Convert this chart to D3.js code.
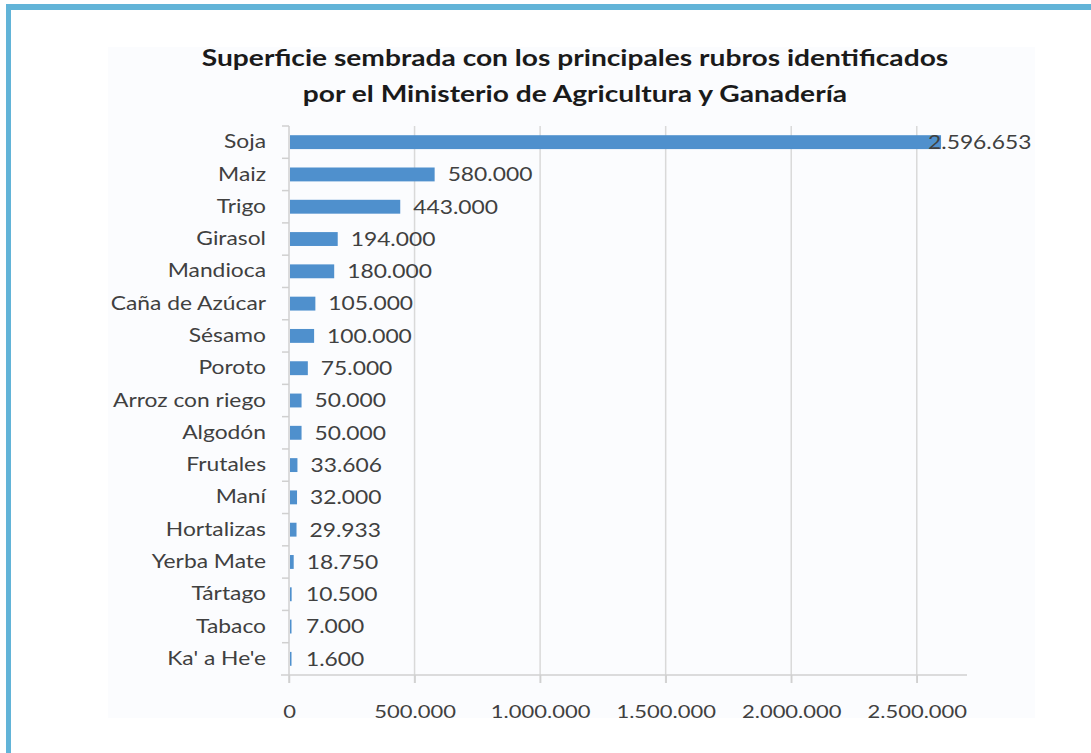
<!DOCTYPE html>
<html>
<head>
<meta charset="utf-8">
<title>Superficie sembrada</title>
<script src="https://cdn.jsdelivr.net/npm/d3@7/dist/d3.min.js"></script>
<style>
  html, body { margin: 0; padding: 0; background: #fff; }
  svg { display: block; font-family: Lato, "Open Sans", sans-serif; }
  .lbl { fill: #404040; }
</style>
</head>
<body>
<svg id="chart" width="1091" height="753"></svg>
<script>
// data
var rubros = ["Soja", "Maiz", "Trigo", "Girasol", "Mandioca", "Caña de Azúcar", "Sésamo",
  "Poroto", "Arroz con riego", "Algodón ", "Frutales", "Maní", "Hortalizas",
  "Yerba Mate", "Tártago", "Tabaco", "Ka' a He'e"];
var hectareas = [2596653, 580000, 443000, 194000, 180000, 105000, 100000,
  75000, 50000, 50000, 33606, 32000, 29933, 18750, 10500, 7000, 1600];
var xTicks = [0, 500000, 1000000, 1500000, 2000000, 2500000];
var titulo = ["Superficie sembrada con los principales rubros identificados",
  "por el Ministerio de Agricultura y Ganadería"];

var svg = d3.select("#chart");

// the source picture is stretched sideways, so text is widened to match
function stretch(sel, k) {
  sel.each(function() {
    var w = this.getComputedTextLength();
    d3.select(this).attr("textLength", w * k).attr("lengthAdjust", "spacingAndGlyphs");
  });
}

// frame (only top and left edges visible)
svg.append("rect").attr("x", 6).attr("y", 4).attr("width", 1091).attr("height", 6).attr("fill", "#62b4d8");
svg.append("rect").attr("x", 6).attr("y", 4).attr("width", 5).attr("height", 760).attr("fill", "#62b4d8");

// chart area
svg.append("rect").attr("x", 108).attr("y", 47).attr("width", 927).attr("height", 671).attr("fill", "#fbfcfe");

var fmt = function(v) { return d3.format(",")(v).replace(/,/g, "."); };

var pLeft = 289, pRight = 967, pTop = 126, pBottom = 675;
var x = d3.scaleLinear().domain([0, 2700000]).range([pLeft, pRight]);
var y = d3.scaleBand().domain(rubros).range([pTop, pBottom]).paddingInner(0.57).paddingOuter(0.285);
var yb = d3.scaleBand().domain(rubros).range([pTop, pBottom]);

// gridlines
svg.append("g").selectAll("line").data(xTicks.slice(1)).enter().append("line")
  .attr("x1", function(d) { return x(d); }).attr("x2", function(d) { return x(d); })
  .attr("y1", pTop).attr("y2", pBottom + 8)
  .attr("stroke", "#d9d9d9").attr("stroke-width", 1.5);

// x axis
var gx = svg.append("g").attr("transform", "translate(0," + pBottom + ")")
  .call(d3.axisBottom(x).tickValues(xTicks).tickSize(8).tickPadding(22).tickFormat(fmt));
gx.select(".domain").attr("stroke", "#d0d0d0").attr("stroke-width", 1.5).attr("d", "M281,0H" + pRight);
gx.selectAll(".tick line").attr("stroke", "#d0d0d0").attr("stroke-width", 1.5);
gx.selectAll(".tick text").attr("fill", "#404040").style("font-size", "18px").style("font-family", "Lato, sans-serif")
  .call(stretch, 1.22);

// y axis
var gy = svg.append("g").attr("transform", "translate(" + pLeft + ",0)")
  .call(d3.axisLeft(yb).tickSize(0).tickPadding(23));
gy.select(".domain").attr("stroke", "#d0d0d0").attr("stroke-width", 1.5).attr("d", "M0," + pTop + "V" + (pBottom + 8));
gy.selectAll(".tick text").attr("fill", "#404040").style("font-size", "19px").style("font-family", "Lato, sans-serif")
  .call(stretch, 1.2);
svg.append("g").selectAll("line").data(rubros).enter().append("line")
  .attr("x1", pLeft - 7).attr("x2", pLeft)
  .attr("y1", function(d) { return yb(d); }).attr("y2", function(d) { return yb(d); })
  .attr("stroke", "#d0d0d0").attr("stroke-width", 1.5);

// bars
svg.append("g").selectAll("rect").data(hectareas).enter().append("rect")
  .attr("x", x(0) + 1)
  .attr("y", function(d, i) { return y(rubros[i]); })
  .attr("width", function(d) { return Math.max(x(d) - x(0) - 1, 1.5); })
  .attr("height", y.bandwidth())
  .attr("fill", "#4f90cd");

// value labels
var maxV = d3.max(hectareas);
svg.append("g").selectAll("text").data(hectareas).enter().append("text")
  .attr("class", "lbl")
  .attr("x", function(d) { return d === maxV ? x(d) - 13 : Math.max(x(d), x(0) + 4) + 13; })
  .attr("y", function(d, i) { return yb(rubros[i]) + yb.bandwidth() / 2; })
  .attr("dy", "0.36em")
  .style("font-size", "19px")
  .text(fmt)
  .call(stretch, 1.2);

// title
svg.append("g").selectAll("text").data(titulo).enter().append("text")
  .attr("x", 575).attr("y", function(d, i) { return 66 + i * 36; })
  .attr("text-anchor", "middle")
  .attr("fill", "#1a1a1a")
  .style("font-size", "22px").style("font-weight", "bold")
  .text(function(d) { return d; })
  .call(stretch, 1.28);
</script>
</body>
</html>
